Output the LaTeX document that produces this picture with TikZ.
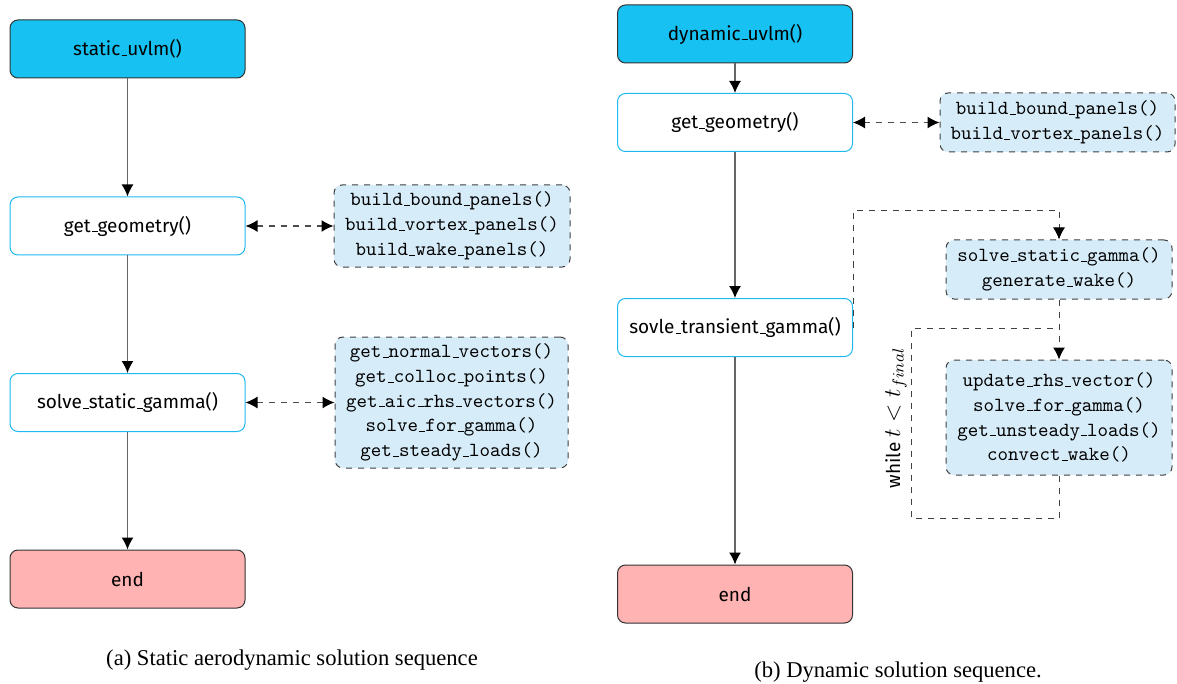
\documentclass[tikz,border=0pt]{standalone}
\usepackage{fontspec}
\setmainfont{Fira Sans}
\newfontfamily\capfont{Liberation Serif}
\usetikzlibrary{arrows.meta}
\newcommand{\us}{\leavevmode\kern.06em\vbox{\hrule width.3em}}
\definecolor{cyanfill}{RGB}{23,193,241}
\definecolor{cyanborder}{RGB}{30,185,240}
\definecolor{pinkfill}{RGB}{255,179,179}
\definecolor{lightblue}{RGB}{214,236,249}
\tikzset{
  tip/.tip={Latex[length=6pt,width=6pt,fill=black,color=black]},
  proc/.style={draw=cyanborder, fill=white, rounded corners=4pt, minimum width=117.5pt,
    minimum height=29pt, line width=0.5pt, inner sep=0pt, font=\fontsize{9.5}{11}\selectfont},
  startbox/.style={proc, draw=black!80, fill=cyanfill},
  endbox/.style={proc, draw=black!80, fill=pinkfill},
  funcs/.style={draw=black!75, dashed, fill=lightblue, rounded corners=4pt, line width=0.5pt,
    inner sep=0pt, align=center, font=\ttfamily\fontsize{10}{12.4}\selectfont},
  flow/.style={draw=black!60, line width=0.7pt, -tip},
  link/.style={draw=black!70, dashed, line width=0.6pt, tip-tip},
  loopline/.style={draw=black!75, dashed, line width=0.5pt},
  looparrow/.style={loopline, -tip},
  caption/.style={font=\capfont\fontsize{11.3}{13}\selectfont}
}
\begin{document}
\begin{tikzpicture}[x=0.5pt,y=-0.5pt]
\useasboundingbox (0,0) rectangle (1177,684);
% ---------- left: static ----------
\node[startbox] (sstart) at (127.5,49) {static\us uvlm()};
\node[proc] (sgeom) at (127.5,226) {get\us geometry()};
\node[funcs, minimum width=118pt, minimum height=41pt] (sbuild) at (452,226)
  {build\us bound\us panels()\\build\us vortex\us panels()\\build\us wake\us panels()};
\node[proc] (ssolve) at (127.5,402.5) {solve\us static\us gamma()};
\node[funcs, minimum width=116.5pt, minimum height=65.5pt] (sfuncs) at (451.5,402.5)
  {get\us normal\us vectors()\\get\us colloc\us points()\\get\us aic\us rhs\us vectors()\\solve\us for\us gamma()\\get\us steady\us loads()};
\node[endbox] (send) at (127.5,579) {end};
\draw[flow] (sstart) -- (sgeom);
\draw[flow] (sgeom) -- (ssolve);
\draw[flow] (ssolve) -- (send);
\draw[link] (sgeom) -- (sbuild);
\draw[link] (ssolve) -- (sfuncs);
\node[caption] (capa) at (292,660) {(a) Static aerodynamic solution sequence};
% ---------- right: dynamic ----------
\node[startbox] (dstart) at (735,34) {dynamic\us uvlm()};
\node[proc] (dgeom) at (735,122.5) {get\us geometry()};
\node[funcs, minimum width=117.5pt, minimum height=29.5pt] (dbuild) at (1057.5,122.5)
  {build\us bound\us panels()\\build\us vortex\us panels()};
\node[proc] (dtrans) at (735,327.5) {sovle\us transient\us gamma()};
\node[endbox] (dend) at (735,594) {end};
\node[funcs, minimum width=113pt, minimum height=29.5pt] (dss) at (1059,269.5)
  {solve\us static\us gamma()\\generate\us wake()};
\node[funcs, minimum width=113pt, minimum height=57.5pt] (dupd) at (1059,417.5)
  {update\us rhs\us vector()\\solve\us for\us gamma()\\get\us unsteady\us loads()\\convect\us wake()};
\draw[flow] (dstart) -- (dgeom);
\draw[flow] (dgeom) -- (dtrans);
\draw[flow] (dtrans) -- (dend);
\draw[link] (dgeom) -- (dbuild);
\coordinate (looptop) at (1059,211);
\coordinate (loopbl) at (911,518);
\coordinate (loopjoin) at (1059,328);
\draw[looparrow] (dtrans.east) |- (looptop) -- (dss.north);
\draw[looparrow] (dss.south) -- (dupd.north);
\draw[loopline] (dupd.south) |- (loopbl) |- (loopjoin);
\node[rotate=90, font=\fontsize{9.5}{11}\selectfont] (while) at (896,418)
  {while {\fontsize{11.5}{13}\selectfont $t < t_{final}$}};
\node[caption] (capb) at (898,672) {(b) Dynamic solution sequence.};
\end{tikzpicture}
\end{document}
